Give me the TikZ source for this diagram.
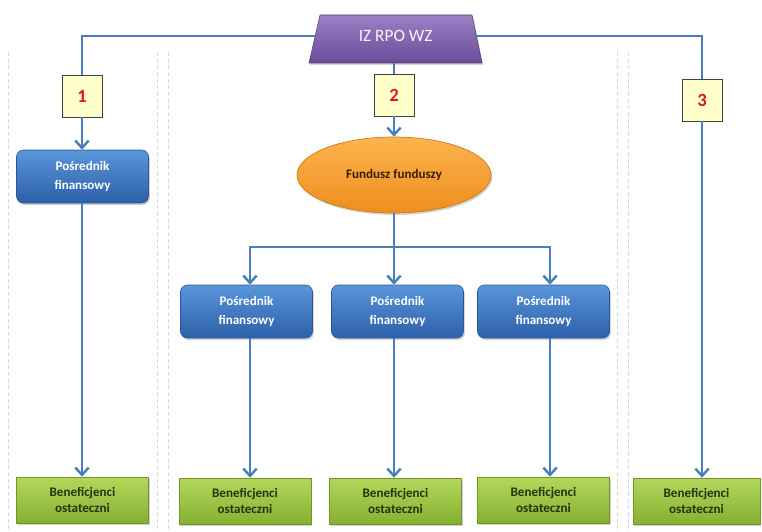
\documentclass[tikz,border=0pt]{standalone}
\usepackage{fontspec}
\setmainfont{Carlito}
\usetikzlibrary{arrows.meta,shapes.geometric,shadows}
\definecolor{lineblue}{HTML}{4A7EBB}
\definecolor{bluetop}{HTML}{5A95DA}
\definecolor{bluebot}{HTML}{2C60A8}
\definecolor{greentop}{HTML}{B2D75C}
\definecolor{greenbot}{HTML}{86B030}
\definecolor{orangetop}{HTML}{FBB44E}
\definecolor{orangebot}{HTML}{EF8E1E}
\definecolor{purptop}{HTML}{9C80C6}
\definecolor{purpbot}{HTML}{6A4B97}
\definecolor{numfill}{HTML}{FFFFCC}
\definecolor{numred}{HTML}{E3141B}
\definecolor{darktext}{HTML}{26330E}
\definecolor{fundtext}{HTML}{3A1C06}
\tikzset{
  conn/.style={draw=lineblue, line width=1.8pt},
  arr/.style={conn, -{Straight Barb[length=5.5pt,width=10pt]}},
  posbox/.style={rounded corners=5pt, top color=bluetop, bottom color=bluebot,
    draw=bluebot!90!black, line width=0.4pt, minimum width=99pt, minimum height=39.75pt,
    align=center, text=white, font=\fontsize{9.8}{14.5}\selectfont\bfseries,
    drop shadow={shadow xshift=1pt, shadow yshift=-1.5pt, opacity=0.35}},
  benbox/.style={top color=greentop, bottom color=greenbot, draw=greenbot!85!black,
    line width=0.4pt, minimum width=99pt, minimum height=34.5pt, align=center,
    text=darktext, font=\fontsize{9.8}{12.5}\selectfont\bfseries,
    drop shadow={shadow xshift=1pt, shadow yshift=-1.5pt, opacity=0.35}},
  numbox/.style={fill=numfill, draw=black!75, line width=0.7pt, minimum width=30pt,
    minimum height=31.5pt, text=numred, font=\fontsize{14}{16}\selectfont\bfseries},
  panel/.style={draw=black!15, line width=0.6pt, dash pattern=on 3pt off 2pt}
}
\begin{document}
\begin{tikzpicture}[x=0.75pt,y=-0.75pt]
\useasboundingbox (0,0) rectangle (762,531);
% panels
\foreach \px in {8,157,168,617,628}{
  \draw[panel] (\px,52) -- (\px,531);
}
% column coordinates
\coordinate (c1) at (82,0);
\coordinate (c2) at (250,0);
\coordinate (c3) at (394,0);
\coordinate (c4) at (550,0);
\coordinate (c5) at (702,0);
% top trapezoid
\path[top color=purptop, bottom color=purpbot, draw=purpbot!80!black, line width=0.4pt,
  drop shadow={shadow xshift=1pt, shadow yshift=-1.5pt, opacity=0.35}]
  (309,63) -- (320,15) -- (472,15) -- (482,63) -- cycle;
\node[minimum width=120.75pt, minimum height=40.5pt, inner sep=0pt,
  text=white!92!purptop, font=\fontsize{13}{15}\selectfont] (iz) at (395.6,36) {IZ RPO WZ};
% number boxes
\node[numbox] (n1) at (82,96) {1};
\node[numbox] (n2) at (394,95) {2};
\node[numbox] (n3) at (702,100) {3};
% fund
\node[ellipse, top color=orangetop, bottom color=orangebot, draw=orangebot!85!black,
  line width=0.5pt, minimum width=145.5pt, minimum height=57pt, inner sep=0pt,
  text=fundtext, font=\fontsize{9.8}{12}\selectfont\bfseries,
  drop shadow={shadow xshift=1pt, shadow yshift=-1.5pt, opacity=0.35}]
  (fund) at (394,175) {Fundusz funduszy};
% intermediaries
\node[posbox] (p1) at (82.5,176.5) {Pośrednik\\finansowy};
\node[posbox] (p2) at (246.5,311.5) {Pośrednik\\finansowy};
\node[posbox] (p3) at (397.5,311.5) {Pośrednik\\finansowy};
\node[posbox] (p4) at (543.5,311.5) {Pośrednik\\finansowy};
% beneficiaries
\node[benbox] (b1) at (82.5,500) {Beneficjenci\\ostateczni};
\node[benbox] (b2) at (245,501) {Beneficjenci\\ostateczni};
\node[benbox] (b3) at (395.5,501) {Beneficjenci\\ostateczni};
\node[benbox] (b4) at (543.5,500) {Beneficjenci\\ostateczni};
\node[benbox, minimum width=95.25pt] (b5) at (696.5,501) {Beneficjenci\\ostateczni};
% connectors
\draw[conn] (iz.west) -| (n1.north);
\draw[arr] (n1.south) -- (n1.south |- p1.north);
\draw[arr] (p1.south -| c1) -- (b1.north -| c1);
\draw[conn] (iz.south -| n2.north) -- (n2.north);
\draw[arr] (n2.south) -- (n2.south |- fund.north);
\draw[conn] (iz.east) -| (n3.north);
\draw[arr] (n3.south) -- (n3.south |- b5.north);
\coordinate (br) at (394,247);
\draw[conn] (fund.south -| c3) -- (br);
\draw[arr] (br) -| (p2.north -| c2);
\draw[arr] (br) -- (p3.north -| c3);
\draw[arr] (br) -| (p4.north -| c4);
\draw[arr] (p2.south -| c2) -- (b2.north -| c2);
\draw[arr] (p3.south -| c3) -- (b3.north -| c3);
\draw[arr] (p4.south -| c4) -- (b4.north -| c4);
\end{tikzpicture}
\end{document}
